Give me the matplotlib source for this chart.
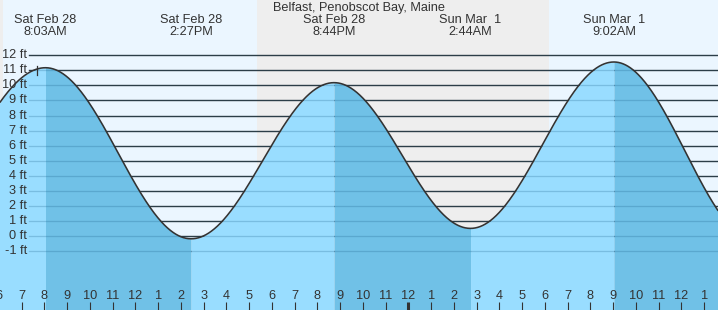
import numpy as np
import matplotlib
matplotlib.use("Agg")
import matplotlib.pyplot as plt
import matplotlib.transforms as mtransforms

# ---- data (hours from Sat Feb 28 00:00) ----
title = "Belfast, Penobscot Bay, Maine"
# tide extremes; first and last are off-chart estimates
tide_times = [1.4, 8.05, 14.45, 20.733, 26.733, 33.033, 39.3]
tide_heights = [0.1, 11.17, -0.17, 10.18, 0.52, 11.55, -0.3]
label_times = [8.05, 14.45, 20.733, 26.733, 33.033]
label_days = ["Sat Feb 28", "Sat Feb 28", "Sat Feb 28", "Sun Mar  1", "Sun Mar  1"]
label_clock = ["8:03AM", "2:27PM", "8:44PM", "2:44AM", "9:02AM"]
night_spans = [(0.0, 6.2), (17.35, 30.2)]
y_levels = list(range(-1, 13))
hour_ticks = list(range(6, 38))
now_time = 7.68

W, H = 718, 310
fig = plt.figure(figsize=(W / 100, H / 100), dpi=100)
ax = fig.add_axes([0, 0, 1, 1])
ax.set_axis_off()
x0, x1 = 6.05, 37.61
y0, y1 = -4.89, 15.66
ax.set_xlim(x0, x1)
ax.set_ylim(y0, y1)

FONT = "Liberation Sans"
TXT = "#333333"
DAY = "#ebf6ff"
NIGHT = "#eeeeee"
WATER_RISE = "#99ddff"
WATER_FALL = "#70c1e7"

def py(p):
    return 1 - p / H

# background
ax.axvspan(x0 - 1, x1 + 1, color=DAY, zorder=0, lw=0)
for a, b in night_spans:
    ax.axvspan(a, b, color=NIGHT, zorder=0.5, lw=0)

# grid lines (dark)
for lv in y_levels:
    ax.axhline(lv, xmin=29 / W, xmax=1, color="#333333", lw=0.95, zorder=1)

# tide curve via cosine interpolation between extremes
def tide(t):
    out = np.empty_like(t)
    for i in range(len(tide_times) - 1):
        ta, tb = tide_times[i], tide_times[i + 1]
        ha, hb = tide_heights[i], tide_heights[i + 1]
        m = (t >= ta) & (t <= tb)
        out[m] = (ha + hb) / 2 + (ha - hb) / 2 * np.cos(np.pi * (t[m] - ta) / (tb - ta))
    return out

for i in range(len(tide_times) - 1):
    ta, tb = tide_times[i], tide_times[i + 1]
    tt = np.linspace(ta, tb, 400)
    hh = tide(tt)
    col = WATER_FALL if tide_heights[i + 1] < tide_heights[i] else WATER_RISE
    ax.fill_between(tt, hh, y0 - 1, color=col, lw=0, zorder=2)

# grid lines inside water (subtle)
for lv in y_levels:
    ax.axhline(lv, xmin=29 / W, xmax=1, color="#1a5f8a", alpha=0.25, lw=0.95, zorder=2.5)

# y labels
trans_ax_data = mtransforms.blended_transform_factory(ax.transAxes, ax.transData)
for lv in y_levels:
    ax.text(27 / W, lv, f"{lv} ft", transform=trans_ax_data, ha="right", va="center",
            fontsize=9.2, family=FONT, color=TXT, zorder=3)

# curve line
tt = np.linspace(x0 - 0.5, x1 + 0.5, 3000)
ax.plot(tt, tide(tt), color="#333333", lw=1.15, zorder=4, solid_capstyle="round")

# now marker
tr = mtransforms.blended_transform_factory(ax.transData, ax.transAxes)
ax.plot([now_time, now_time], [py(66), py(75)], transform=tr, color="#333333", lw=0.9, zorder=4)

# hour ticks
for h in hour_ticks:
    lab = str((h - 1) % 12 + 1)
    ax.text(h, py(296), lab, transform=tr, ha="center", va="center", fontsize=9.2,
            family=FONT, color=TXT, zorder=3, clip_on=False)
    lw = 2.2 if h % 24 == 0 else 0.8
    ax.plot([h, h], [py(301.5), py(311)], transform=tr, color="#333333", lw=lw,
            zorder=3, solid_capstyle="butt")

# top labels
ax.text((x0 + x1) / 2 - 0.02, py(7.5), title, transform=tr, ha="center", va="center",
        fontsize=9.2, family=FONT, color=TXT, zorder=3)
for t, d, c in zip(label_times, label_days, label_clock):
    ax.text(t, py(20), d, transform=tr, ha="center", va="center", fontsize=9.2,
            family=FONT, color=TXT, zorder=3)
    ax.text(t, py(32), c, transform=tr, ha="center", va="center", fontsize=9.2,
            family=FONT, color=TXT, zorder=3)

fig.savefig("out.png", dpi=100)
